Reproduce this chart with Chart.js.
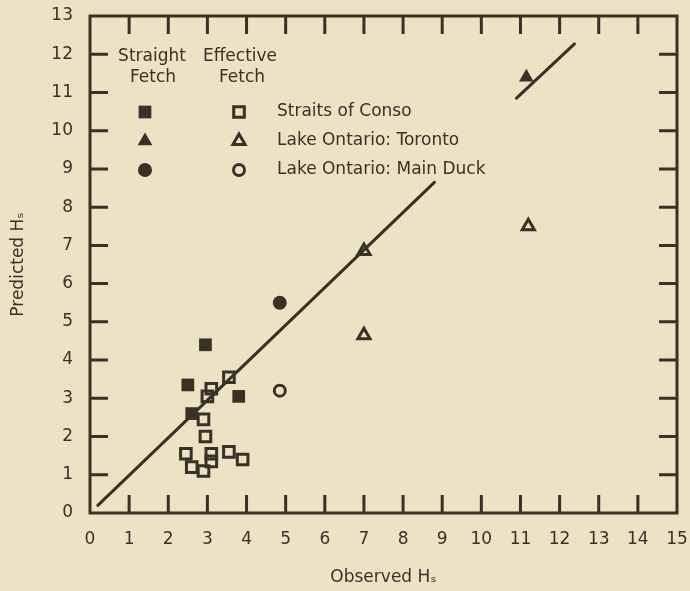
<!DOCTYPE html>
<html>
<head>
<meta charset="utf-8">
<script src="https://cdn.jsdelivr.net/npm/chart.js@4/dist/chart.umd.min.js"></script>
<style>
    html, body { margin: 0; padding: 0; background: #ece3c4; }
    #wrap { width: 690px; height: 591px; }
</style>
</head>
<body>
<div id="wrap"><canvas id="chart" width="690" height="591"></canvas></div>
<script>
const ink = '#3a3126';
const paper = '#ece3c4';

const xTickValues = [0, 1, 2, 3, 4, 5, 6, 7, 8, 9, 10, 11, 12, 13, 14, 15];
const yTickValues = [0, 1, 2, 3, 4, 5, 6, 7, 8, 9, 10, 11, 12, 13];

// filled = straight fetch, open = effective fetch
const consoStraight = [
    { x: 2.95, y: 4.4 }, { x: 2.5, y: 3.35 }, { x: 3.8, y: 3.05 }, { x: 2.6, y: 2.6 }
];
const consoEffective = [
    { x: 3.55, y: 3.55 }, { x: 3.1, y: 3.25 }, { x: 3.0, y: 3.05 }, { x: 2.9, y: 2.45 },
    { x: 2.95, y: 2.0 }, { x: 2.45, y: 1.55 }, { x: 2.6, y: 1.2 }, { x: 2.9, y: 1.1 },
    { x: 3.1, y: 1.35 }, { x: 3.1, y: 1.55 }, { x: 3.55, y: 1.6 }, { x: 3.9, y: 1.4 }
];
const torontoStraight = [{ x: 11.15, y: 11.4 }];
const torontoEffective = [{ x: 7.0, y: 6.85 }, { x: 7.0, y: 4.65 }, { x: 11.2, y: 7.5 }];
const mainDuckStraight = [{ x: 4.85, y: 5.5 }];
const mainDuckEffective = [{ x: 4.85, y: 3.2 }];

// the 1:1 line, broken where the legend text sits
const lineLower = [{ x: 0.2, y: 0.2 }, { x: 8.8, y: 8.65 }];
const lineUpper = [{ x: 10.9, y: 10.85 }, { x: 12.38, y: 12.27 }];

const legendRows = ['Straits of Conso', 'Lake Ontario: Toronto', 'Lake Ontario: Main Duck'];
const legendStyles = ['rect', 'triangle', 'circle'];

const filled = (style, r) => ({
    pointStyle: style, pointRadius: r, backgroundColor: ink, borderWidth: 0,
});
const open = (style, r) => ({
    pointStyle: style, pointRadius: r, backgroundColor: 'rgba(0,0,0,0)',
    borderColor: ink, borderWidth: 3,
});

function marker(ctx, style, r, x, y, isOpen) {
    ctx.fillStyle = isOpen ? 'rgba(0,0,0,0)' : ink;
    ctx.strokeStyle = ink;
    ctx.lineWidth = 3;
    Chart.helpers.drawPoint(ctx, { pointStyle: style, radius: r, borderWidth: isOpen ? 3 : 0, rotation: 0 }, x, y);
}

const frameAndLegend = {
    id: 'frameAndLegend',
    beforeDraw(chart) {
        const ctx = chart.ctx;
        ctx.save();
        ctx.fillStyle = paper;
        ctx.fillRect(0, 0, chart.width, chart.height);
        ctx.restore();
    },
    afterDraw(chart) {
        const { ctx, chartArea: a, scales } = chart;
        const tickLen = 18;
        ctx.save();
        ctx.strokeStyle = ink;
        ctx.lineWidth = 3;
        ctx.strokeRect(a.left, a.top, a.right - a.left, a.bottom - a.top);
        ctx.beginPath();
        xTickValues.slice(1, -1).forEach(v => {
            const px = scales.x.getPixelForValue(v);
            ctx.moveTo(px, a.bottom); ctx.lineTo(px, a.bottom - tickLen);
            ctx.moveTo(px, a.top); ctx.lineTo(px, a.top + tickLen);
        });
        yTickValues.slice(1, -1).forEach(v => {
            const py = scales.y.getPixelForValue(v);
            ctx.moveTo(a.left, py); ctx.lineTo(a.left + tickLen, py);
            ctx.moveTo(a.right, py); ctx.lineTo(a.right - tickLen, py);
        });
        ctx.stroke();

        // legend block in the top-left corner
        const lx = a.left, ly = a.top;
        ctx.fillStyle = ink;
        ctx.font = '17px "DejaVu Sans"';
        ctx.textAlign = 'center';
        ctx.textBaseline = 'middle';
        ctx.fillText('Straight', lx + 62, ly + 41);
        ctx.fillText('Fetch', lx + 63, ly + 62);
        ctx.fillText('Effective', lx + 150, ly + 41);
        ctx.fillText('Fetch', lx + 152, ly + 62);
        const sizes = { rect: [9, 7.5], triangle: [8.5, 7], circle: [7, 5.5] };
        legendRows.forEach((txt, i) => {
            const yy = ly + 96 + i * 29;
            const st = legendStyles[i];
            marker(ctx, st, sizes[st][0], lx + 55, yy, false);
            marker(ctx, st, sizes[st][1], lx + 149, yy, true);
            ctx.fillStyle = ink;
            ctx.textAlign = 'left';
            ctx.font = '17px "DejaVu Sans"';
            ctx.fillText(txt, lx + 187, yy);
        });
        ctx.restore();
    }
};

const data = {
    datasets: [
        { label: 'Straits of Conso (straight)', data: consoStraight, ...filled('rect', 9) },
        { label: 'Straits of Conso (effective)', data: consoEffective, ...open('rect', 7.5) },
        { label: 'Toronto (straight)', data: torontoStraight, ...filled('triangle', 8.5) },
        { label: 'Toronto (effective)', data: torontoEffective, ...open('triangle', 7) },
        { label: 'Main Duck (straight)', data: mainDuckStraight, ...filled('circle', 7) },
        { label: 'Main Duck (effective)', data: mainDuckEffective, ...open('circle', 5.5) },
        {
            label: 'line low', data: lineLower, showLine: true, pointRadius: 0,
            borderColor: ink, borderWidth: 3, borderCapStyle: 'round',
        },
        {
            label: 'line high', data: lineUpper, showLine: true, pointRadius: 0,
            borderColor: ink, borderWidth: 3, borderCapStyle: 'round',
        },
    ]
};

const tickFont = { family: '"DejaVu Sans"', size: 17 };
const titleFont = { family: '"DejaVu Sans"', size: 17 };

// drop the extra room chart.js keeps for the outer tick labels
const noLabelPadding = s => {
    s.paddingTop = 0; s.paddingBottom = 0; s.paddingLeft = 0; s.paddingRight = 0;
};

const config = {
    type: 'scatter',
    data: data,
    options: {
        responsive: false,
        animation: false,
        layout: { padding: { top: 16, right: 13, left: 0, bottom: 0 } },
        scales: {
            x: {
                type: 'linear',
                min: 0,
                max: 15,
                afterBuildTicks: s => { s.ticks = xTickValues.map(v => ({ value: v })); },
                afterFit: s => { s.height = 78; noLabelPadding(s); },
                grid: { display: false, drawTicks: false },
                border: { display: false },
                ticks: { color: ink, font: tickFont, padding: 16, maxRotation: 0, autoSkip: false },
                title: { display: true, text: 'Observed Hₛ', color: ink, font: titleFont, padding: { top: 0, bottom: 3 } },
            },
            y: {
                type: 'linear',
                min: 0,
                max: 13,
                afterBuildTicks: s => { s.ticks = yTickValues.map(v => ({ value: v })); },
                afterFit: s => { s.width = 90; noLabelPadding(s); },
                grid: { display: false, drawTicks: false },
                border: { display: false },
                ticks: { color: ink, font: tickFont, padding: 17, autoSkip: false },
                title: { display: true, text: 'Predicted Hₛ', color: ink, font: titleFont, padding: { top: 8, bottom: 0 } },
            },
        },
        plugins: {
            legend: { display: false },
            tooltip: { enabled: false },
        },
    },
    plugins: [frameAndLegend],
};

const ctx = document.getElementById('chart').getContext('2d');
const chart = new Chart(ctx, config);
</script>
</body>
</html>
